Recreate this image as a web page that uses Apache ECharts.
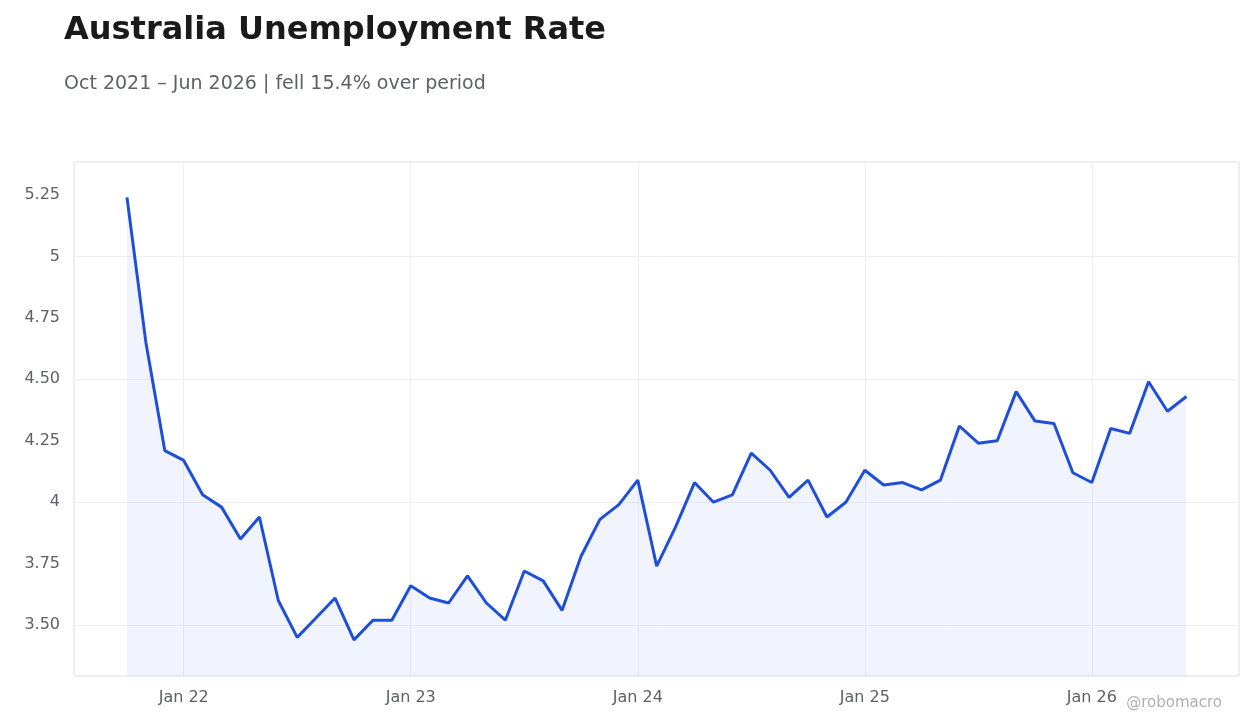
<!DOCTYPE html>
<html>
<head>
<meta charset="utf-8">
<script src="https://cdn.jsdelivr.net/npm/echarts@6/dist/echarts.min.js"></script>
<style>
  html, body { margin: 0; padding: 0; background: #fff; }
  #chart { width: 1260px; height: 728px; }
</style>
</head>
<body>
<div id="chart"></div>
<script>
// monthly, Oct 2021 .. Jun 2026 (index 0 = Oct 2021)
var rates = [
  5.24, 4.65, 4.21,
  4.17, 4.03, 3.98, 3.85, 3.94, 3.60, 3.45, 3.53, 3.61, 3.44, 3.52, 3.52,
  3.66, 3.61, 3.59, 3.70, 3.59, 3.52, 3.72, 3.68, 3.56, 3.78, 3.93, 3.99,
  4.09, 3.74, 3.90, 4.08, 4.00, 4.03, 4.20, 4.13, 4.02, 4.09, 3.94, 4.00,
  4.13, 4.07, 4.08, 4.05, 4.09, 4.31, 4.24, 4.25, 4.45, 4.33, 4.32, 4.12,
  4.08, 4.30, 4.28, 4.49, 4.37, 4.43
];
var janIdx = [3, 15, 27, 39, 51];
var janLabels = ['Jan 22', 'Jan 23', 'Jan 24', 'Jan 25', 'Jan 26'];
var yTicks = [3.5, 3.75, 4, 4.25, 4.5, 4.75, 5, 5.25];
var yLabels = ['3.50', '3.75', '4', '4.25', '4.50', '4.75', '5', '5.25'];

var chart = echarts.init(document.getElementById('chart'));
var data = rates.map(function (v, i) { return [i, v]; });

var option = {
  backgroundColor: '#fff',
  textStyle: { fontFamily: 'DejaVu Sans' },
  title: {
    text: 'Australia Unemployment Rate',
    subtext: 'Oct 2021 – Jun 2026 | fell 15.4% over period',
    left: 59, top: 10,
    itemGap: 28,
    textStyle: { fontSize: 32, fontWeight: 'bold', color: '#1a1a1a', fontFamily: 'DejaVu Sans' },
    subtextStyle: { fontSize: 19, color: '#5f6068', fontFamily: 'DejaVu Sans' }
  },
  graphic: [{
    type: 'text', right: 38, top: 696,
    style: { text: '@robomacro', fill: '#b0b0b0', fontSize: 15, fontFamily: 'DejaVu Sans' }
  }],
  grid: { left: 74, right: 21, top: 162, bottom: 52, show: true, borderColor: '#dddddd', borderWidth: 1 },
  xAxis: {
    type: 'value', min: -2.8, max: 58.78,
    axisLine: { show: false },
    axisTick: { show: false, customValues: janIdx },
    axisLabel: {
      customValues: janIdx, color: '#5f6068', fontSize: 16, margin: 14,
      formatter: function (v) { return janLabels[janIdx.indexOf(Math.round(v))] || ''; }
    },
    splitLine: { show: true, lineStyle: { color: '#efefef' } }
  },
  yAxis: {
    type: 'value', min: 3.293, max: 5.384,
    axisLine: { show: false }, axisTick: { show: false },
    axisLabel: {
      customValues: yTicks, color: '#5f6068', fontSize: 16, margin: 14,
      formatter: function (v) {
        for (var i = 0; i < yTicks.length; i++) if (Math.abs(yTicks[i] - v) < 1e-6) return yLabels[i];
        return '';
      }
    },
    splitLine: { show: true, lineStyle: { color: '#efefef' } }
  },
  series: [{
    type: 'line', data: data, showSymbol: false,
    lineStyle: { color: '#1f4fd8', width: 3 },
    itemStyle: { color: '#1f4fd8' },
    areaStyle: { color: 'rgba(31,79,216,0.09)' }
  }]
};
chart.setOption(option);
</script>
</body>
</html>
